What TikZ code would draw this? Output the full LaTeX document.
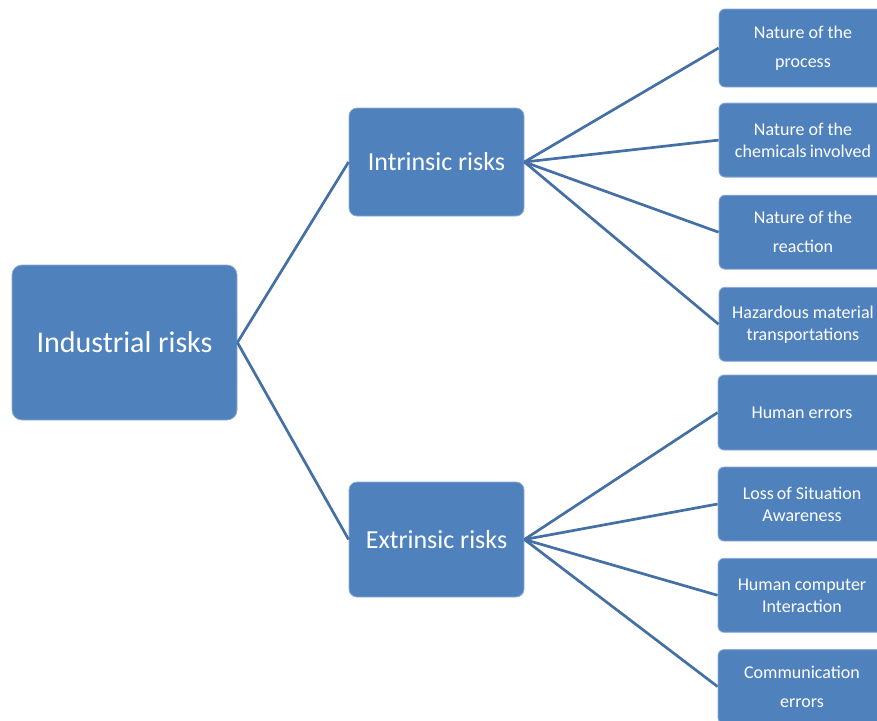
\documentclass[tikz,border=0pt]{standalone}
\usepackage{fontspec}
\setmainfont{Carlito}
\usetikzlibrary{positioning}

\definecolor{riskfill}{HTML}{4F81BD}
\definecolor{riskedge}{HTML}{8FAAD6}
\definecolor{risklink}{HTML}{4470A6}

\tikzset{
  riskbox/.style={rectangle, draw=riskedge, line width=0.8pt, fill=riskfill, text=white, align=center, inner sep=0pt},
  leafbox/.style={riskbox, rounded corners=6pt, minimum width=168pt, minimum height=74pt},
  leafwide/.style={leafbox, font=\fontsize{18}{29}\selectfont},
  leaftight/.style={leafbox, font=\fontsize{18}{22}\selectfont},
  link/.style={draw=risklink, line width=2.7pt}
}

\begin{document}
\begin{tikzpicture}[x=1pt, y=-1pt, node distance=17.3pt]
    \useasboundingbox (0,0) rectangle (877,720);
    \clip (0,0) rectangle (877,720);

    \node (root) [riskbox, rounded corners=10pt, minimum width=225pt, minimum height=155pt, font=\fontsize{30}{36}\selectfont] at (124.5,342.5) {Industrial risks};
    \node (intrinsic) [riskbox, rounded corners=8pt, minimum width=175pt, minimum height=108pt, font=\fontsize{26}{31}\selectfont] at (436.5,162) {Intrinsic risks};
    \node (extrinsic) [riskbox, rounded corners=8pt, minimum width=175pt, minimum height=115pt, font=\fontsize{26}{31}\selectfont] at (436.5,539.5) {Extrinsic risks};

    \node (process) [leafwide, minimum height=78pt] at (803,48) {Nature of the\\process};
    \node (chemicals) [leaftight, below=15.3pt of process] {Nature of the\\chemicals\,involved};
    \node (reaction) [leafwide, below=of chemicals] {Nature of the\\reaction};
    \node (transport) [leaftight, below=of reaction] {Hazardous material\\transportations};

    \node (human) [leaftight, minimum height=75pt] at (802,412.5) {Human errors};
    \node (awareness) [leaftight, below=16.2pt of human] {Loss\,of Situation\\Awareness};
    \node (hci) [leaftight, below=16.5pt of awareness] {Human computer\\Interaction};
    \node (communication) [leafwide, below=16.5pt of hci] {Communication\\errors};

    \draw[link] (root.east) -- (intrinsic.west);
    \draw[link] (root.east) -- (extrinsic.west);
    \draw[link] (intrinsic.east) -- (process.west);
    \draw[link] (intrinsic.east) -- (chemicals.west);
    \draw[link] (intrinsic.east) -- (reaction.west);
    \draw[link] (intrinsic.east) -- (transport.west);
    \draw[link] (extrinsic.east) -- (human.west);
    \draw[link] (extrinsic.east) -- (awareness.west);
    \draw[link] (extrinsic.east) -- (hci.west);
    \draw[link] (extrinsic.east) -- (communication.west);
\end{tikzpicture}
\end{document}
